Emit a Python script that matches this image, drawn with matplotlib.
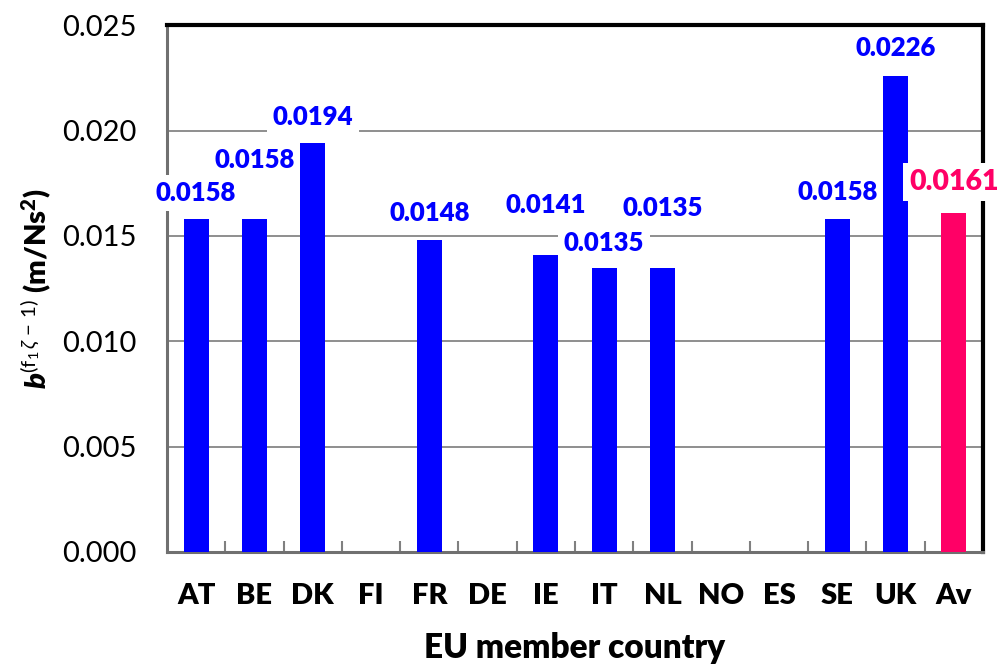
import numpy as np
import matplotlib
matplotlib.use("Agg")
import matplotlib.pyplot as plt
from matplotlib.ticker import FixedLocator

plt.rcParams['font.family'] = ['Lato', 'DejaVu Sans']
plt.rcParams['mathtext.fontset'] = 'custom'
plt.rcParams['mathtext.rm'] = 'Lato'
plt.rcParams['mathtext.it'] = 'Lato:italic'
plt.rcParams['mathtext.bf'] = 'Lato:heavy'
plt.rcParams['mathtext.bfit'] = 'Lato:italic:heavy'

countries = ["AT", "BE", "DK", "FI", "FR", "DE", "IE", "IT", "NL", "NO", "ES", "SE", "UK", "Av"]
b_values = [0.0158, 0.0158, 0.0194, np.nan, 0.0148, np.nan, 0.0141, 0.0135, 0.0135,
            np.nan, np.nan, 0.0158, 0.0226, 0.0161]
value_labels = ["0.0158", "0.0158", "0.0194", "", "0.0148", "", "0.0141", "0.0135", "0.0135",
                "", "", "0.0158", "0.0226", "0.0161"]
yticks = [0.000, 0.005, 0.010, 0.015, 0.020, 0.025]

# label offsets above bar tops (pixels)
label_offsets = [26, 59, 26, 0, 27, 0, 50, 25, 60, 0, 0, 27, 28, 31]

blue = "#0000FF"
pink = "#FF0066"
colors = [blue] * (len(countries) - 1) + [pink]

fig = plt.figure(figsize=(10.03, 6.65), dpi=100)
ax = fig.add_axes([0.1665, 0.170, 0.8135, 0.792])

x = np.arange(len(countries))
vals = np.array(b_values, dtype=float)
ax.bar(x, np.nan_to_num(vals), width=0.43, color=colors, zorder=3)

for i, (v, lab) in enumerate(zip(vals, value_labels)):
    if np.isnan(v):
        continue
    big = countries[i] == "Av"
    ax.annotate(lab, (x[i], v), xytext=(0, label_offsets[i]), textcoords='offset pixels',
                ha='center', va='center', fontsize=20.5 if big else 18.5, fontweight='heavy',
                color=colors[i], zorder=5, annotation_clip=False,
                bbox=dict(boxstyle='square,pad=0.22', facecolor='white', edgecolor='none'))

ax.set_xlim(-0.5, len(countries) - 0.5)
ax.set_ylim(0, 0.025)
ax.set_yticks(yticks)
ax.set_yticklabels(["%.3f" % t for t in yticks], fontsize=21)
ax.tick_params(axis='y', length=0, pad=22)

ax.set_xticks(x)
ax.set_xticklabels(countries, fontsize=21, fontweight='heavy')
ax.tick_params(axis='x', length=0, pad=22)
ax.xaxis.set_minor_locator(FixedLocator(np.arange(0.5, len(countries) - 1, 1.0)))
ax.tick_params(axis='x', which='minor', direction='in', length=8, width=1.5, color='#808080')

ax.yaxis.grid(True, color='#868686', linewidth=1.3, zorder=0)
ax.set_axisbelow(True)

for side in ['left', 'bottom']:
    ax.spines[side].set_color('#707070')
    ax.spines[side].set_linewidth(2.2)
for side in ['top', 'right']:
    ax.spines[side].set_color('black')
    ax.spines[side].set_linewidth(3)

ax.set_xlabel("EU member country", fontsize=24, fontweight='heavy', labelpad=17)
ax.set_ylabel(r"$\mathbfit{b}^{(\mathrm{f}_{1}\,\zeta\,-\,1)}$ (m/Ns$^{\mathbf{2}}$)",
              fontsize=21, fontweight='heavy', labelpad=6)

fig.savefig("out.png", dpi=100)
